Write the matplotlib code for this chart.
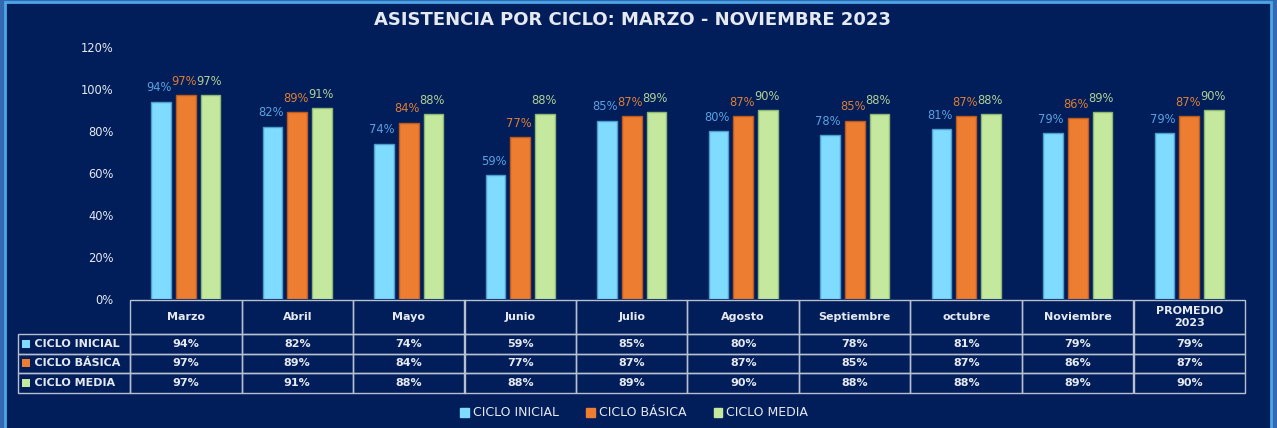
import numpy as np
import matplotlib
matplotlib.use("Agg")
import matplotlib.pyplot as plt
from matplotlib.patches import Rectangle

# data
meses = ["Marzo", "Abril", "Mayo", "Junio", "Julio", "Agosto", "Septiembre",
         "octubre", "Noviembre", "PROMEDIO\n2023"]
series = ["CICLO INICIAL", "CICLO BÁSICA", "CICLO MEDIA"]
inicial = [94, 82, 74, 59, 85, 80, 78, 81, 79, 79]
basica = [97, 89, 84, 77, 87, 87, 85, 87, 86, 87]
media = [97, 91, 88, 88, 89, 90, 88, 88, 89, 90]
yticks = [0, 20, 40, 60, 80, 100, 120]

bar_col = ["#7fdbff", "#ed7d31", "#c4e89e"]
edge_col = ["#4f9ed0", "#c05a1a", "#8fb870"]
lab_col = ["#5ba2de", "#dc7e36", "#b0d096"]
bg = "#011e5b"
txt = "#e6e9f0"

plt.rcParams["font.family"] = ["DejaVu Sans"]

W, H = 1277, 428
fig = plt.figure(figsize=(W / 100, H / 100), dpi=100, facecolor=bg)

# frame
fig.patches.append(Rectangle((0, 0), 1, 1, transform=fig.transFigure,
                             facecolor="#3468b0", edgecolor="none", zorder=-3))
fig.patches.append(Rectangle((5 / W, -0.05), (1271 - 5) / W, (425.5 / H) + 0.05,
                             transform=fig.transFigure, facecolor=bg,
                             edgecolor="#4aa6e8", linewidth=2, zorder=-2))

def px(x0, y0, x1, y1):
    return [x0 / W, 1 - y1 / H, (x1 - x0) / W, (y1 - y0) / H]

ax = fig.add_axes(px(130, 47, 1245, 299))
ax.set_facecolor("none")

x = np.arange(len(meses))
vals = [inicial, basica, media]
bw = 0.175
step = 0.224
for i, v in enumerate(vals):
    pos = x + (i - 1) * step
    ax.bar(pos, [a / 100 for a in v], width=bw, color=bar_col[i],
           edgecolor=edge_col[i], linewidth=1, zorder=2)
    for p, a in zip(pos, v):
        ax.text(p - 0.015, a / 100 + 0.035, f"{a}%",
                ha="center", va="bottom", color=lab_col[i], fontsize=8.3)

ax.set_xlim(-0.5, len(meses) - 0.5)
ax.set_ylim(0, 1.2)
ax.set_yticks([t / 100 for t in yticks])
ax.set_yticklabels([f"{t}%" for t in yticks], color=txt, fontsize=8.3)
ax.tick_params(axis="y", length=0, pad=12)
ax.set_xticks([])
for s in ax.spines.values():
    s.set_visible(False)

# data table
cell_text = [[f"{a}%" for a in v] for v in vals]
tab = ax.table(cellText=cell_text, rowLabels=["    " + s for s in series],
               colLabels=meses, cellLoc="center", rowLoc="left",
               colWidths=[0.1] * len(meses),
               bbox=[0, -(393 - 299) / 252, 1, (393 - 300) / 252])
tab._autoColumns = []
tab.auto_set_font_size(False)
for (r, c), cell in tab.get_celld().items():
    cell.set_facecolor("none")
    cell.set_edgecolor("#b8c0d0")
    cell.set_linewidth(1)
    cell.get_text().set_color(txt)
    cell.get_text().set_fontsize(8)
    cell.get_text().set_fontweight("bold")
    cell.set_height(34 if r == 0 else 19.7)
    if c == -1:
        cell.set_width(0.1 * 112 / 111.5)
        cell.PAD = 0.01
fig.canvas.draw()

# colour keys in row labels
for i in range(3):
    cell = tab[(i + 1, -1)]
    bb = cell.get_window_extent(fig.canvas.get_renderer())
    cy = (bb.y0 + bb.y1) / 2
    fig.patches.append(Rectangle(((bb.x0 + 4) / W, (cy - 4) / H), 8 / W, 8 / H,
                                 transform=fig.transFigure, facecolor=bar_col[i],
                                 edgecolor="none"))

fig.text(632 / W, 1 - 20 / H, "ASISTENCIA POR CICLO: MARZO - NOVIEMBRE 2023",
         ha="center", va="center", color=txt, fontsize=13, fontweight="bold")

handles = [Rectangle((0, 0), 1, 1, color=c) for c in bar_col]
fig.legend(handles, series, loc="center", bbox_to_anchor=(634 / W, 1 - 413 / H),
           ncol=3, frameon=False, fontsize=9, labelcolor=txt,
           handlelength=0.7, handleheight=0.7, handletextpad=0.3, columnspacing=2.2)

fig.savefig("out.png", dpi=100, facecolor=bg)
